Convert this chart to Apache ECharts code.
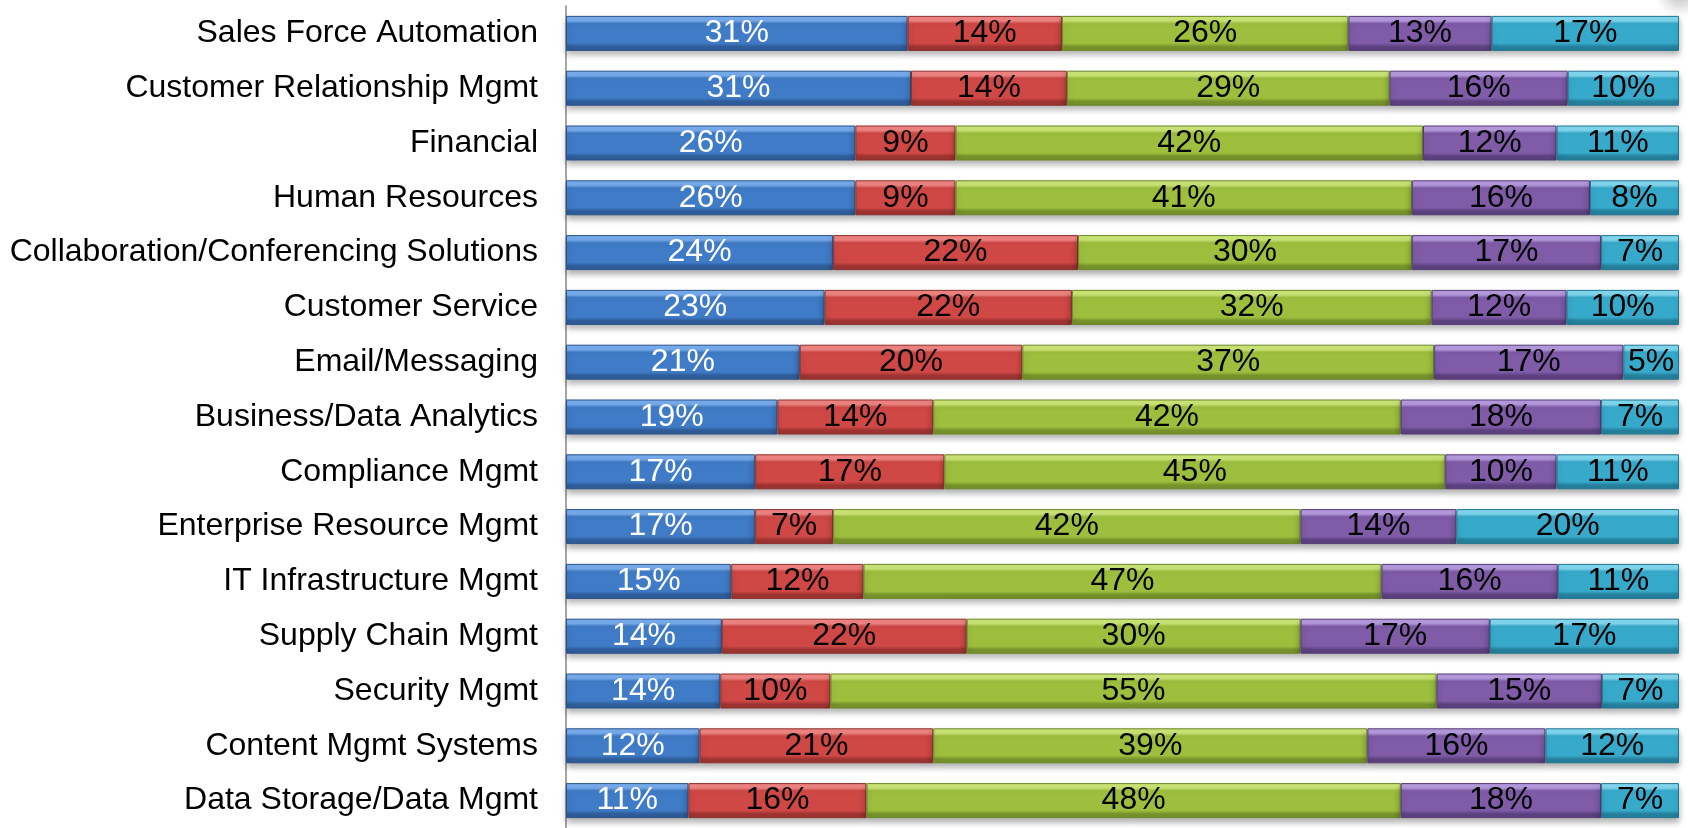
<!DOCTYPE html>
<html>
<head>
<meta charset="utf-8">
<script src="https://cdn.jsdelivr.net/npm/echarts@6/dist/echarts.min.js"></script>
<style>
  html, body { margin: 0; padding: 0; background: #fff; }
  #chart { width: 1688px; height: 828px; }
</style>
</head>
<body>
<div id="chart"></div>
<script>
const categories = [
  'Sales Force Automation', 'Customer Relationship Mgmt', 'Financial', 'Human Resources',
  'Collaboration/Conferencing Solutions', 'Customer Service', 'Email/Messaging',
  'Business/Data Analytics', 'Compliance Mgmt', 'Enterprise Resource Mgmt',
  'IT Infrastructure Mgmt', 'Supply Chain Mgmt', 'Security Mgmt', 'Content Mgmt Systems',
  'Data Storage/Data Mgmt'
];
const blueVals = [31, 31, 26, 26, 24, 23, 21, 19, 17, 17, 15, 14, 14, 12, 11];
const redVals = [14, 14, 9, 9, 22, 22, 20, 14, 17, 7, 12, 22, 10, 21, 16];
const greenVals = [26, 29, 42, 41, 30, 32, 37, 42, 45, 42, 47, 30, 55, 39, 48];
const purpleVals = [13, 16, 12, 16, 17, 12, 17, 18, 10, 14, 16, 17, 15, 16, 18];
const cyanVals = [17, 10, 11, 8, 7, 10, 5, 7, 11, 20, 11, 17, 7, 12, 7];

const groups = [blueVals, redVals, greenVals, purpleVals, cyanVals];
// 100% stacked: each row scaled by its own total
const totals = categories.map((c, i) => groups.reduce((s, g) => s + g[i], 0));

const bevel = (light, base, dark) => new echarts.graphic.LinearGradient(0, 0, 0, 1, [
  { offset: 0, color: light },
  { offset: 0.14, color: light },
  { offset: 0.22, color: base },
  { offset: 0.78, color: base },
  { offset: 0.88, color: dark },
  { offset: 1, color: dark }
]);

const styles = [
  { fill: bevel('#79aef0', '#3f7bc6', '#2e5d9a'), border: '#2a5288', text: '#fff' },
  { fill: bevel('#f28683', '#cf4845', '#9d3431'), border: '#8c2f2d', text: '#000' },
  { fill: bevel('#cde878', '#9dbf3d', '#76922b'), border: '#6c8727', text: '#000' },
  { fill: bevel('#b79be0', '#7f5ba8', '#5d417f'), border: '#553b76', text: '#000' },
  { fill: bevel('#82daf2', '#37aacb', '#24809c'), border: '#227690', text: '#000' }
];

const series = groups.map((vals, k) => ({
  type: 'bar',
  stack: 'all',
  barWidth: 35,
  data: vals.map((v, i) => ({ value: v / totals[i] * 100, raw: v })),
  itemStyle: {
    color: styles[k].fill,
    borderColor: styles[k].border,
    borderWidth: 1,
    shadowColor: 'rgba(0,0,0,0.3)',
    shadowBlur: 6,
    shadowOffsetY: 4
  },
  label: {
    show: true,
    position: 'inside',
    color: styles[k].text,
    fontFamily: 'Liberation Sans',
    fontSize: 32,
    formatter: (p) => vals[p.dataIndex] + '%'
  }
}));

const chart = echarts.init(document.getElementById('chart'), null, { renderer: 'canvas' });
chart.setOption({
  animation: false,
  grid: { left: 566, right: 9, top: 6, height: 826 },
  xAxis: { type: 'value', min: 0, max: 100, show: false },
  yAxis: {
    type: 'category',
    inverse: true,
    data: categories,
    axisLine: { lineStyle: { color: '#868686', width: 1.5 } },
    axisTick: { length: 8, lineStyle: { color: '#868686', width: 1.5 } },
    axisLabel: { color: '#000', fontFamily: 'Liberation Sans', fontSize: 32, margin: 28 }
  },
  graphic: [{
    type: 'ellipse',
    shape: { cx: 1680, cy: -8, rx: 80, ry: 26 },
    style: {
      fill: new echarts.graphic.RadialGradient(0.5, 0.5, 0.5, [
        { offset: 0, color: 'rgba(120,120,120,0.55)' },
        { offset: 1, color: 'rgba(160,160,160,0)' }
      ])
    },
    z: -1
  }],
  series
});
window.addEventListener('resize', chart.resize);
</script>
</body>
</html>
